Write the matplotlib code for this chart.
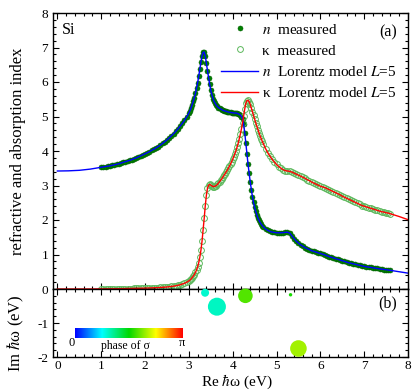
import numpy as np
import matplotlib
matplotlib.use("Agg")
import matplotlib.pyplot as plt
from matplotlib.colors import LinearSegmentedColormap
from matplotlib.ticker import MultipleLocator

plt.rcParams["font.family"] = ["Liberation Serif", "DejaVu Serif"]
plt.rcParams["mathtext.fontset"] = "stix"
plt.rcParams["axes.unicode_minus"] = False

# measured optical constants of Si (photon energy in eV)
energy = [
    1.00, 1.05, 1.10, 1.15, 1.20, 1.25, 1.30, 1.35, 1.40, 1.45,
    1.50, 1.55, 1.60, 1.65, 1.70, 1.75, 1.80, 1.85, 1.90, 1.95,
    2.00, 2.05, 2.10, 2.15, 2.20, 2.25, 2.30, 2.35, 2.40, 2.45,
    2.50, 2.55, 2.60, 2.65, 2.70, 2.75, 2.80, 2.85, 2.90, 2.95,
    3.000, 3.025, 3.050, 3.075, 3.100, 3.125, 3.150, 3.175, 3.200, 3.225,
    3.250, 3.275, 3.300, 3.325, 3.350, 3.375, 3.400, 3.425, 3.450, 3.475,
    3.500, 3.525, 3.550, 3.575, 3.600, 3.625, 3.650, 3.675, 3.700, 3.725,
    3.750, 3.775, 3.800, 3.825, 3.850, 3.875, 3.900, 3.925, 3.950, 3.975,
    4.000, 4.025, 4.050, 4.075, 4.100, 4.125, 4.150, 4.175, 4.200, 4.225,
    4.250, 4.275, 4.300, 4.325, 4.350, 4.375, 4.400, 4.425, 4.450, 4.475,
    4.500, 4.525, 4.550, 4.575, 4.600, 4.625, 4.650, 4.675,
    4.70, 4.75, 4.80, 4.85, 4.90, 4.95,
    5.00, 5.05, 5.10, 5.15, 5.20, 5.25, 5.30, 5.35, 5.40, 5.45,
    5.50, 5.55, 5.60, 5.65, 5.70, 5.75, 5.80, 5.85, 5.90, 5.95,
    6.00, 6.05, 6.10, 6.15, 6.20, 6.25, 6.30, 6.35, 6.40, 6.45,
    6.50, 6.55, 6.60, 6.65, 6.70, 6.75, 6.80, 6.85, 6.90, 6.95,
    7.00, 7.05, 7.10, 7.15, 7.20, 7.25, 7.30, 7.35, 7.40, 7.45,
    7.50, 7.55, 7.60,
]
n_measured = [
    3.53, 3.54, 3.55, 3.56, 3.57, 3.585, 3.60, 3.615, 3.63, 3.65,
    3.67, 3.69, 3.71, 3.73, 3.75, 3.78, 3.80, 3.83, 3.86, 3.89,
    3.92, 3.95, 3.98, 4.02, 4.05, 4.09, 4.13, 4.17, 4.22, 4.27,
    4.32, 4.38, 4.44, 4.50, 4.57, 4.64, 4.72, 4.80, 4.89, 4.99,
    5.10, 5.17, 5.25, 5.34, 5.44, 5.55, 5.67, 5.82, 5.98, 6.17,
    6.38, 6.58, 6.75, 6.86, 6.87, 6.75, 6.55, 6.33, 6.12, 5.93,
    5.76, 5.63, 5.52, 5.44, 5.38, 5.33, 5.29, 5.26, 5.24, 5.22,
    5.20, 5.18, 5.17, 5.16, 5.15, 5.14, 5.13, 5.12, 5.12, 5.11,
    5.11, 5.10, 5.10, 5.10, 5.09, 5.08, 5.06, 5.04, 5.00, 4.93,
    4.78, 4.53, 4.22, 3.92, 3.62, 3.35, 3.10, 2.88, 2.68, 2.51,
    2.37, 2.25, 2.15, 2.06, 1.99, 1.93, 1.88, 1.84,
    1.80, 1.74, 1.70, 1.67, 1.65, 1.64,
    1.63, 1.63, 1.63, 1.635, 1.64, 1.645, 1.62, 1.54, 1.46, 1.39,
    1.33, 1.28, 1.24, 1.20, 1.17, 1.14, 1.11, 1.09, 1.07, 1.05,
    1.03, 1.01, 0.99, 0.965, 0.94, 0.92, 0.90, 0.88, 0.86, 0.84,
    0.82, 0.80, 0.78, 0.76, 0.745, 0.73, 0.715, 0.70, 0.685, 0.67,
    0.655, 0.645, 0.635, 0.625, 0.615, 0.605, 0.595, 0.585, 0.575, 0.565,
    0.56, 0.55, 0.54,
]
kappa_measured = [
    0.005, 0.005, 0.005, 0.005, 0.005, 0.006, 0.006, 0.007, 0.008, 0.009,
    0.010, 0.011, 0.012, 0.013, 0.014, 0.016, 0.017, 0.019, 0.020, 0.022,
    0.024, 0.026, 0.028, 0.030, 0.033, 0.036, 0.040, 0.044, 0.048, 0.053,
    0.058, 0.065, 0.073, 0.082, 0.093, 0.106, 0.122, 0.142, 0.165, 0.195,
    0.235, 0.26, 0.29, 0.33, 0.37, 0.42, 0.48, 0.55, 0.64, 0.76,
    0.92, 1.12, 1.38, 1.70, 2.05, 2.42, 2.72, 2.92, 3.01, 3.03,
    3.01, 2.99, 2.97, 2.97, 2.98, 3.00, 3.03, 3.07, 3.11, 3.15,
    3.19, 3.24, 3.29, 3.34, 3.39, 3.44, 3.50, 3.56, 3.62, 3.69,
    3.76, 3.84, 3.92, 4.01, 4.11, 4.22, 4.35, 4.49, 4.64, 4.82,
    5.02, 5.22, 5.38, 5.46, 5.47, 5.43, 5.35, 5.25, 5.14, 5.03,
    4.92, 4.82, 4.72, 4.62, 4.53, 4.44, 4.36, 4.28,
    4.21, 4.07, 3.95, 3.85, 3.76, 3.68,
    3.61, 3.55, 3.50, 3.46, 3.43, 3.42, 3.41, 3.39, 3.36, 3.33,
    3.30, 3.27, 3.24, 3.21, 3.17, 3.14, 3.10, 3.07, 3.04, 3.01,
    2.98, 2.96, 2.94, 2.91, 2.88, 2.85, 2.82, 2.79, 2.76, 2.73,
    2.69, 2.66, 2.63, 2.60, 2.57, 2.54, 2.51, 2.48, 2.45, 2.42,
    2.40, 2.38, 2.36, 2.34, 2.32, 2.30, 2.28, 2.26, 2.24, 2.23,
    2.21, 2.20, 2.18,
]

# Lorentz model outside the measured range
model_energy_low = [0.0, 0.25, 0.5, 0.75]
model_n_low = [3.42, 3.425, 3.44, 3.475]
model_kappa_low = [0.0, 0.0, 0.0, 0.0]
model_energy_high = [7.8, 8.0]
model_n_high = [0.50, 0.46]
model_kappa_high = [2.10, 2.01]

# poles of the model (panel b): position, |sigma| (relative) and phase / pi
pole_re = [3.37, 3.64, 4.29, 5.32, 5.50]
pole_im = [-0.11, -0.52, -0.20, -0.17, -1.75]
pole_amp = [0.40, 0.90, 0.73, 0.17, 0.83]
pole_phase = [0.30, 0.31, 0.58, 0.52, 0.66]

model_energy = model_energy_low + energy + model_energy_high
model_n = model_n_low + n_measured + model_n_high
model_kappa = model_kappa_low + kappa_measured + model_kappa_high

phase_cmap = LinearSegmentedColormap.from_list(
    "phase", ["#0000ff", "#00ffff", "#00d800", "#ffff00", "#ff0000"])

fig = plt.figure(figsize=(4.15, 3.92), dpi=100)
ax = fig.add_axes([53 / 415, 1 - 289 / 392, 355 / 415, 276 / 392])
axb = fig.add_axes([53 / 415, 1 - 357 / 392, 355 / 415, 68 / 392])

ax.plot(energy, n_measured, "o", ms=3.6, color="#008000", mec="#006000",
        mew=0.4, label=r"$n$  measured")
ax.plot(energy, kappa_measured, "o", ms=4.2, mfc="none", mec="#5cb85c",
        mew=0.7, label="κ  measured")
ax.plot(model_energy, model_n, color="#0000ff", lw=1.0,
        label=r"$n$  Lorentz model $L$=5")
ax.plot(model_energy, model_kappa, color="#ff0000", lw=1.0,
        label=r"κ  Lorentz model $L$=5")

ax.set_xlim(-0.1, 8)
ax.set_ylim(0, 8)
ax.set_xticks(range(0, 9))
ax.set_yticks(range(0, 9))
ax.xaxis.set_minor_locator(MultipleLocator(0.2))
ax.yaxis.set_minor_locator(MultipleLocator(0.2))
ax.tick_params(labelbottom=False)
ax.set_ylabel("refractive and absorption index", fontsize=12)
ax.yaxis.set_label_coords(-0.075, 0.5)
ax.text(0.025, 0.94, "Si", transform=ax.transAxes, fontsize=11.5, va="center")
ax.text(0.969, 0.931, "(a)", transform=ax.transAxes, fontsize=11.5,
        ha="right", va="center")
ax.legend(loc="upper right", bbox_to_anchor=(0.969, 0.965), frameon=False,
          fontsize=11, numpoints=1, handlelength=2.4, handletextpad=0.3,
          labelspacing=0.48, borderaxespad=0, borderpad=0)

sizes = [(14.4 * a) ** 2 for a in pole_amp]
axb.scatter(pole_re, pole_im, s=sizes, c=pole_phase, cmap=phase_cmap,
            vmin=0, vmax=1, edgecolors="none", clip_on=False, zorder=3)
axb.set_xlim(-0.1, 8)
axb.set_ylim(-2, 0)
axb.set_xticks(range(0, 9))
axb.set_yticks([-2, -1, 0])
axb.set_yticklabels(["-2", "-1", ""])
axb.xaxis.set_minor_locator(MultipleLocator(0.2))
axb.yaxis.set_minor_locator(MultipleLocator(0.2))
axb.set_xlabel(r"Re $\hbar$ω (eV)", fontsize=11)
axb.xaxis.set_label_coords(0.518, -0.235)
axb.set_ylabel(r"Im $\hbar$ω (eV)", fontsize=12)
axb.yaxis.set_label_coords(-0.075, 0.35)
axb.text(0.969, 0.79, "(b)", transform=axb.transAxes, fontsize=11.5,
         ha="right", va="center")

for a in (ax, axb):
    a.tick_params(which="both", direction="in", top=True, right=True,
                  labelsize=9.5, width=0.8)
    a.tick_params(which="major", length=4.5)
    a.tick_params(which="minor", length=2.5)
    for s in a.spines.values():
        s.set_linewidth(1.0)
axb.tick_params(axis="x", pad=2)

# colour scale for the phase of sigma
cax = fig.add_axes([75 / 415, 1 - 338 / 392, 108 / 415, 10 / 392])
cax.imshow(np.linspace(0, 1, 256)[None, :], aspect="auto", cmap=phase_cmap)
cax.axis("off")
fig.text(72 / 415, 1 - 343 / 392, "0", ha="center", va="center", fontsize=9)
fig.text(182 / 415, 1 - 343 / 392, "π", ha="center", va="center", fontsize=9)
fig.text(125 / 415, 1 - 346 / 392, "phase of σ", ha="center", va="center",
         fontsize=8.5)

fig.savefig("out.png", dpi=100)
